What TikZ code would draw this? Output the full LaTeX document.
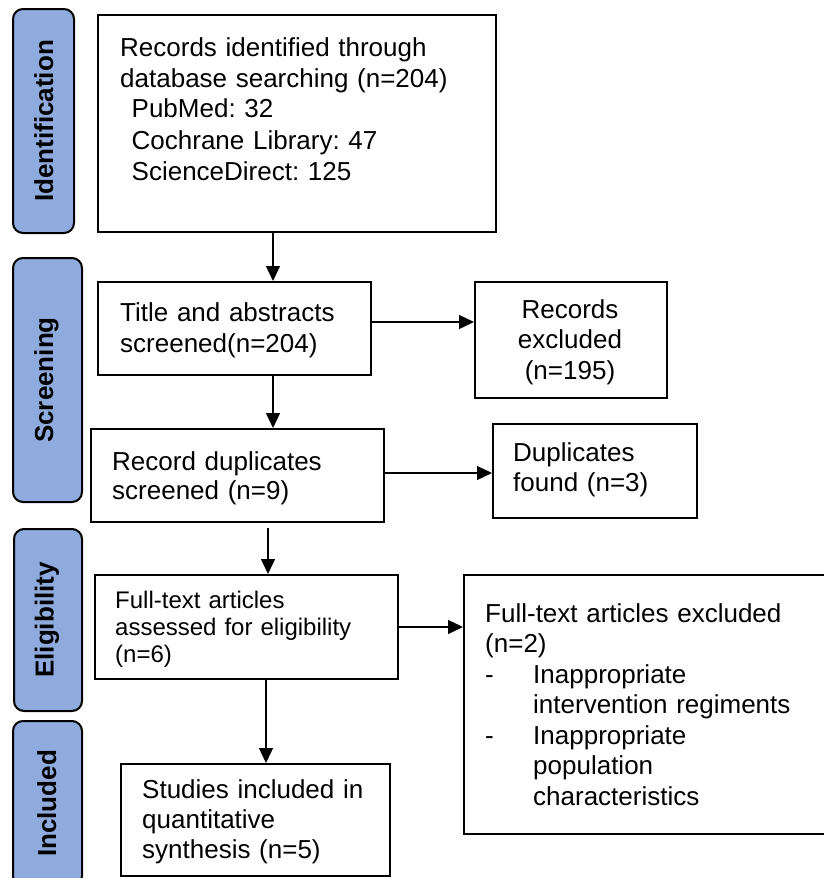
\documentclass[tikz,border=0pt]{standalone}
\usepackage{fontspec}
\setmainfont{Liberation Sans}
\usetikzlibrary{arrows.meta}
\definecolor{phaseblue}{HTML}{8FAADC}
\frenchspacing
\begin{document}
\begin{tikzpicture}[x=1pt,y=-1pt,
  box/.style={draw=black, line width=2pt, fill=white, inner sep=0pt, anchor=north west},
  phase/.style={draw=black, line width=2pt, fill=phaseblue, rounded corners=10pt, rotate=90,
    inner sep=0pt, font=\bfseries\fontsize{26}{30}\selectfont, text height=19pt, text depth=#1},
  txt/.style={anchor=base west, inner sep=0pt, align=left, text width=#1},
  arr/.style={line width=1.3pt, -{Triangle[length=15pt,width=14pt]}}
]
\useasboundingbox (0,0) rectangle (824,878);
\clip (0,0) rectangle (824,878);
\fill[white] (0,0) rectangle (824,878);

% phase labels
\node[phase=0pt, minimum width=224pt, minimum height=61pt] (p1) at (43.5,121) {Identification};
\node[phase=8pt, minimum width=244pt, minimum height=69pt] (p2) at (47.5,380) {Screening};
\node[phase=8pt, minimum width=182pt, minimum height=68pt] (p3) at (48,620) {Eligibility};
\node[phase=2pt, minimum width=165pt, minimum height=69pt] (p4) at (47.5,803.5) {Included};

% boxes
\node[box, minimum width=398pt, minimum height=217pt] (b1) at (97,14) {};
\node[box, minimum width=273pt, minimum height=93pt] (b2) at (97,281) {};
\node[box, minimum width=293pt, minimum height=93pt] (b3) at (90,428) {};
\node[box, minimum width=192pt, minimum height=116pt] (b4) at (474,281) {};
\node[box, minimum width=204pt, minimum height=94pt] (b5) at (492,423) {};
\node[box, minimum width=303pt, minimum height=104pt] (b6) at (94,574) {};
\node[box, minimum width=269pt, minimum height=112pt] (b7) at (120,763) {};
\node[box, minimum width=363pt, minimum height=259pt] (b8) at (463,574) {};

% texts
\node[txt=370pt, font=\fontsize{26}{31}\selectfont] (t1) at (120,56)
  {Records identified through\\database searching (n=204)\\\hspace*{11.5pt}PubMed: 32\\\hspace*{11.5pt}Cochrane Library: 47\\\hspace*{11.5pt}ScienceDirect: 125};
\node[txt=240pt, font=\fontsize{26}{31}\selectfont] (t2) at (120,321)
  {Title and abstracts\\screened(n=204)};
\node[txt=260pt, font=\fontsize{26}{29}\selectfont] (t3) at (112,470)
  {Record duplicates\\screened (n=9)};
\node[anchor=base, inner sep=0pt, align=center, text width=180pt, font=\fontsize{26}{30.5}\selectfont] (t4) at (570,318)
  {Records\\excluded\\(n=195)};
\node[txt=180pt, font=\fontsize{26}{30}\selectfont] (t5) at (513,461)
  {Duplicates\\found (n=3)};
\node[txt=275pt, font=\fontsize{24}{27}\selectfont] (t6) at (115,608)
  {Full-text articles\\assessed for eligibility\\(n=6)};
\node[txt=245pt, font=\fontsize{26}{30}\selectfont] (t7) at (142,798)
  {Studies included in\\quantitative\\synthesis (n=5)};
\node[txt=330pt, font=\fontsize{26}{30.5}\selectfont] (t8) at (485,622)
  {Full-text articles excluded\\(n=2)\\\makebox[48pt][l]{-}Inappropriate\\\hspace*{48pt}intervention regiments\\\makebox[48pt][l]{-}Inappropriate\\\hspace*{48pt}population\\\hspace*{48pt}characteristics};

% helper coordinates
\coordinate (v1) at (273,0);
\coordinate (v2) at (268,0);
\coordinate (v3) at (266,0);
\coordinate (h1) at (0,322);
\coordinate (h2) at (0,473);
\coordinate (h3) at (0,627);

% connectors
\draw[arr] (b1.south -| v1) -- (b2.north -| v1);
\draw[arr] (b2.south -| v1) -- (b3.north -| v1);
\draw[arr, shorten <=5pt] (b3.south -| v2) -- (b6.north -| v2);
\draw[arr] (b6.south -| v3) -- (b7.north -| v3);
\draw[arr] (b2.east |- h1) -- (b4.west |- h1);
\draw[arr] (b3.east |- h2) -- (b5.west |- h2);
\draw[arr] (b6.east |- h3) -- (b8.west |- h3);
\end{tikzpicture}
\end{document}
